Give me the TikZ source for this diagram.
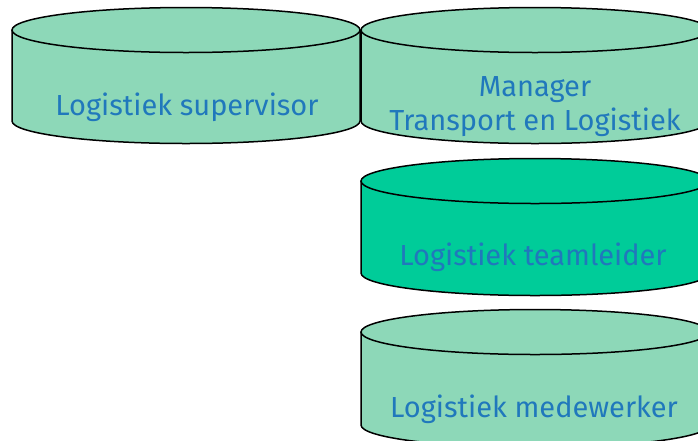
\documentclass[tikz,border=0pt]{standalone}
\usepackage{fontspec}
\setmainfont{Fira Sans}
\definecolor{cylA}{RGB}{141,216,184}
\definecolor{cylB}{RGB}{0,204,153}
\definecolor{txtblue}{RGB}{32,120,188}
\tikzset{
  cylfill/.style={fill=#1},
  cyldraw/.style={draw=black, line width=1.5pt},
  lbl/.style={text=txtblue, font=\fontsize{29}{34}\selectfont, anchor=base, inner sep=0pt, align=center}
}
% #1 cx, #2 top cy, #3 bottom cy, #4 colour
\newcommand{\mycyl}[4]{%
  \fill[cylfill=#4] (#1-174,#2) -- (#1-174,#3) arc[start angle=180, end angle=0, x radius=174, y radius=22.5] -- (#1+174,#2) -- cycle;
  \draw[cyldraw] (#1-174,#2) -- (#1-174,#3) arc[start angle=180, end angle=0, x radius=174, y radius=22.5] -- (#1+174,#2);
  \draw[cyldraw, fill=#4] (#1,#2) ellipse[x radius=174, y radius=22.5];
}
\begin{document}
\begin{tikzpicture}[x=1pt,y=-1pt]
\useasboundingbox (0,0) rectangle (698,440);
\begin{scope}
\clip (0,0) rectangle (698,440);
\mycyl{186}{30}{121}{cylA}
\mycyl{535}{30}{121}{cylA}
\mycyl{535}{181}{273}{cylB}
\mycyl{535}{332}{425}{cylA}
\end{scope}
\node[lbl] (sup) at (187,115) {Logistiek supervisor};
\node[lbl] (man) at (535,130) {Manager\\Transport en Logistiek};
\node[lbl] (tl) at (533,265) {Logistiek teamleider};
\node[lbl] (mw) at (534,417) {Logistiek medewerker};
\end{tikzpicture}
\end{document}
